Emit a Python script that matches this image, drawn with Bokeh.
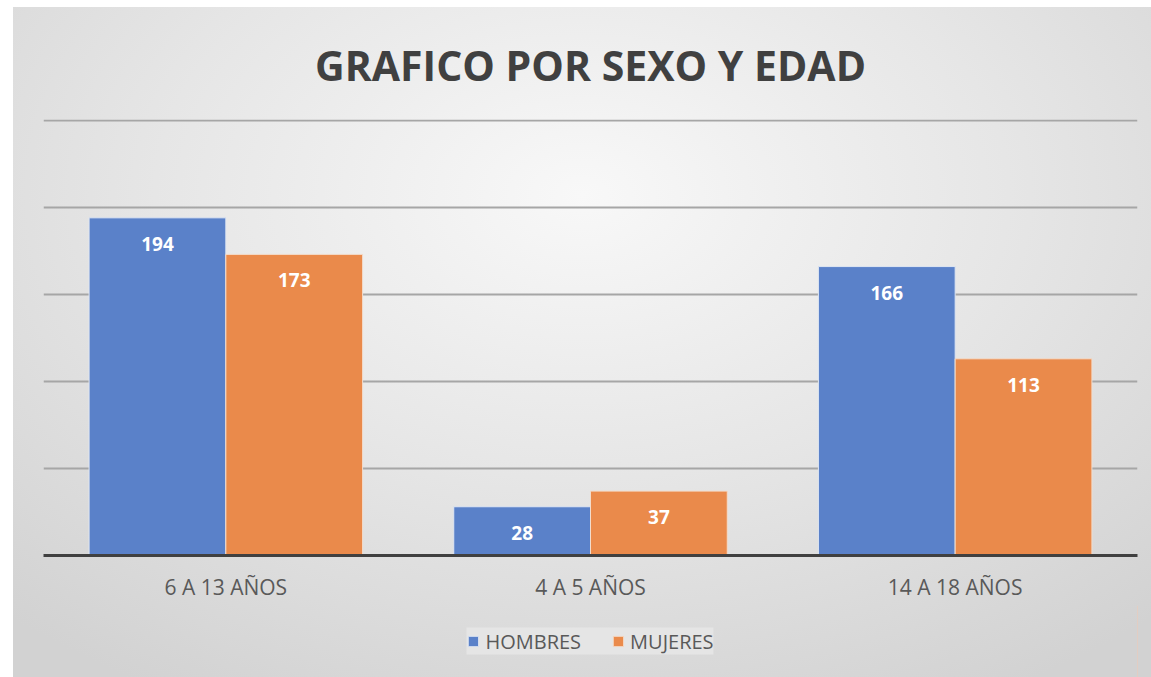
from bokeh.plotting import figure
from bokeh.layouts import column
from bokeh.models import ColumnDataSource, Legend, LegendItem, FixedTicker
from bokeh.transform import dodge
from bokeh.core.properties import value
from bokeh.embed import file_html
from bokeh.resources import INLINE

# ---- data ----
categories = ["6 A 13 AÑOS", "4 A 5 AÑOS", "14 A 18 AÑOS"]
hombres = [194, 28, 166]
mujeres = [173, 37, 113]
series_names = ["HOMBRES", "MUJERES"]
series_colors = ["#5A81C9", "#EA8A4B"]
title_text = "GRAFICO POR SEXO Y EDAD"

src = ColumnDataSource(dict(
    cat=categories,
    h=hombres, m=mujeres,
    h_lbl=[str(v) for v in hombres],
    m_lbl=[str(v) for v in mujeres],
))

FONT = "Open Sans"

p = figure(x_range=categories, y_range=(0, 250.5), frame_width=1094, frame_height=436,
           output_backend="svg", toolbar_location=None,
           min_border_left=30, min_border_right=14, min_border_top=112, min_border_bottom=50)
p.border_fill_color = None
p.background_fill_color = None
p.outline_line_color = None

p.title.text = title_text
p.title.align = "center"
p.title.text_font = FONT
p.title.text_font_style = "bold"
p.title.text_font_size = "41px"
p.title.text_color = "#404040"
p.title.standoff = 53

r1 = p.vbar(x=dodge("cat", -0.1875, range=p.x_range), top="h", width=0.375, source=src,
            fill_color=series_colors[0], line_color="#dfe6f2", line_width=1)
r2 = p.vbar(x=dodge("cat", 0.1875, range=p.x_range), top="m", width=0.375, source=src,
            fill_color=series_colors[1], line_color="#f3dccb", line_width=1)

for xo, col, lab in [(-0.1875, "h", "h_lbl"), (0.1875, "m", "m_lbl")]:
    p.text(x=dodge("cat", xo, range=p.x_range), y=col, text=lab, source=src,
           text_color="white", text_font=value(FONT), text_font_style="bold",
           text_font_size="19px", text_align="center", text_baseline="middle", y_offset=26)

p.yaxis.visible = False
p.ygrid.ticker = FixedTicker(ticks=[50, 100, 150, 200, 250])
p.ygrid.grid_line_color = "#a6a6a6"
p.ygrid.grid_line_width = 2
p.xgrid.grid_line_color = None

ax = p.xaxis[0]
ax.axis_line_color = "#404040"
ax.axis_line_width = 3
ax.major_tick_line_color = None
ax.minor_tick_line_color = None
ax.major_label_text_font = FONT
ax.major_label_text_font_size = "21px"
ax.major_label_text_color = "#595959"
ax.major_label_standoff = 11

# legend strip (separate small figure so the legend is not clipped)
p2 = figure(width=1138, height=72, x_range=(0, 1), y_range=(0, 1),
            output_backend="svg", toolbar_location=None,
            min_border_left=16, min_border_right=0, min_border_top=0, min_border_bottom=0)
p2.axis.visible = False
p2.grid.grid_line_color = None
p2.border_fill_color = None
p2.background_fill_color = None
p2.outline_line_color = None
lg1 = p2.vbar(x=[5], top=[1], width=0.1, fill_color=series_colors[0], line_color="#dfe6f2")
lg2 = p2.vbar(x=[5], top=[1], width=0.1, fill_color=series_colors[1], line_color="#f3dccb")

legend = Legend(items=[LegendItem(label=series_names[0], renderers=[lg1]),
                       LegendItem(label=series_names[1], renderers=[lg2])],
                orientation="horizontal", location="center")
legend.label_text_font = FONT
legend.label_text_font_size = "20px"
legend.label_text_color = "#595959"
legend.glyph_width = 13
legend.glyph_height = 13
legend.spacing = 30
legend.padding = 10
legend.margin = 0
legend.label_standoff = 6
legend.background_fill_color = "#e6e6e6"
legend.background_fill_alpha = 0.9
legend.border_line_color = None
p2.add_layout(legend, "center")

layout = column(p, p2, spacing=0)
layout.margin = (7, 0, 0, 13)
layout.styles = {"background": "radial-gradient(ellipse 75% 85% at 50% 28%, #f8f8f8 0%, #e6e6e6 50%, #d2d2d2 100%)"}

open("out.html", "w").write(file_html(layout, INLINE))
